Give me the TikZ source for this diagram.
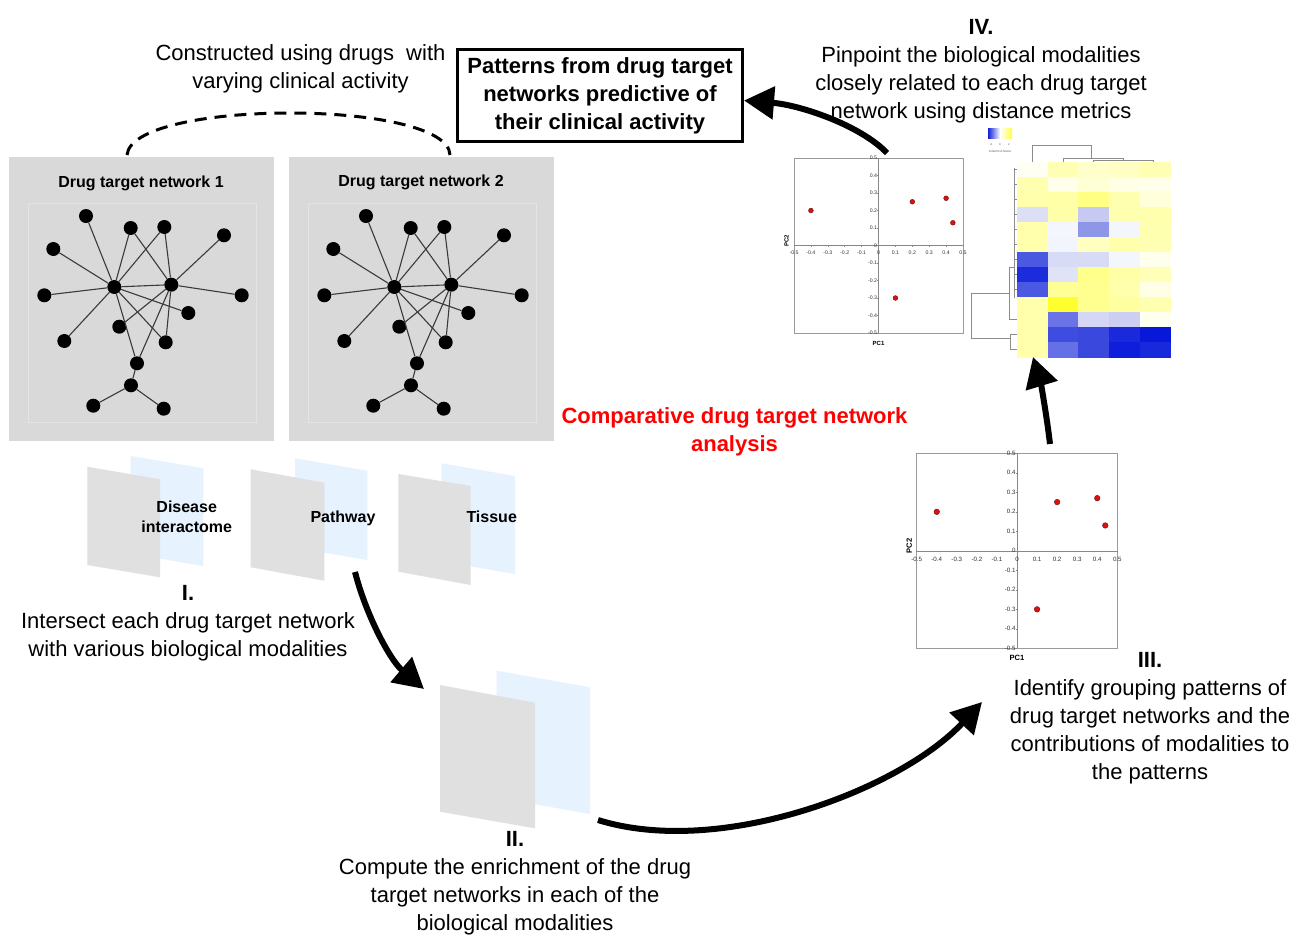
\documentclass[tikz,border=0pt]{standalone}
\usepackage{fontspec}
\setmainfont{Liberation Sans}
\usetikzlibrary{arrows.meta}

\definecolor{panelgray}{HTML}{D9D9D9}
\definecolor{panelline}{HTML}{E4E4E4}
\definecolor{sheetgray}{HTML}{E0E0E0}
\definecolor{sheetblue}{HTML}{E6F2FE}
\definecolor{edgegray}{HTML}{3A3A3A}
\definecolor{plotgray}{HTML}{9A9A9A}
\definecolor{axisgray}{HTML}{888888}
\definecolor{dotred}{HTML}{E01010}
\definecolor{dotrim}{HTML}{601010}
\definecolor{dendro}{HTML}{8C8C8C}
\definecolor{hotred}{HTML}{FF0000}
\definecolor{zblue}{HTML}{1020D8}
\definecolor{zyellow}{HTML}{FFFF40}

\tikzset{
  body/.style={font=\fontsize{22}{28}\selectfont, align=center, inner sep=0pt, anchor=north},
  nettitle/.style={font=\fontsize{16}{20}\selectfont\bfseries, inner sep=0pt},
  modlabel/.style={font=\fontsize{16}{20}\selectfont\bfseries, align=center, inner sep=0pt},
  netdot/.style={circle, fill=black, minimum size=14pt, inner sep=0pt},
  netedge/.style={draw=edgegray, line width=1.1pt},
  flow/.style={line width=6pt, -{Triangle[length=30pt,width=32pt]}},
  plotframe/.style={draw=plotgray, line width=0.7pt},
  plotaxis/.style={draw=axisgray, line width=0.6pt},
  ticklab/.style={inner sep=0pt, text=black!80},
  dendroline/.style={draw=dendro, line width=0.6pt},
}

% network with two hubs, drawn inside a grey panel
\newcommand\drawnet[2]{%
  \begin{scope}[shift={(#2,0)}]
    \foreach \n/\x/\y in {n1/86/216, n2/130.7/228, n3/164.3/227, n4/224/235.3,
        n5/53.3/249, A/114.3/287, B/171.3/284.7, n6/44.3/295.3, n7/241.7/295.3,
        n8/188.3/313, n9/119.3/326.7, n10/64.3/341, n11/165.7/342.3,
        n12/137/363.3, n13/131/385.3, n14/93.3/405.7, n15/163.7/408.7}
      \node[netdot] (#1\n) at (\x,\y) {};
    \foreach \a/\b in {A/n1, A/n2, A/n3, A/n5, A/n6, A/n10, A/B, A/n8, A/n11,
        A/n12, B/n2, B/n3, B/n4, B/n7, B/n9, B/n11, B/n12, n12/n13, n13/n14, n13/n15}
      \draw[netedge] (#1\a) -- (#1\b);
  \end{scope}}

% PCA scatter plot: centre x, centre y, half width, half height,
% tick font size, title font size, dot radius, name prefix
\newcommand\pcaplot[8]{%
  \begin{scope}[shift={(#1,#2)}]
    \draw[plotframe] (-#3,-#4) rectangle (#3,#4);
    \draw[plotaxis] (-#3,0) -- (#3,0);
    \draw[plotaxis] (0,-#4) -- (0,#4);
    \foreach \k/\lab [count=\i] in {-5/-0.5,-4/-0.4,-3/-0.3,-2/-0.2,-1/-0.1,0/0,
        1/0.1,2/0.2,3/0.3,4/0.4,5/0.5}{
      \draw[plotaxis] ({\k*#3/5},0) -- ({\k*#3/5},1.5);
      \draw[plotaxis] (-1.5,{-\k*#4/5}) -- (0,{-\k*#4/5});
      \node[ticklab, font=\fontsize{#5}{#5}\selectfont] (#8x\i) at ({\k*#3/5},{1.3*#5}) {\lab};
      \node[ticklab, font=\fontsize{#5}{#5}\selectfont, anchor=east] (#8y\i) at (-1.2,{-\k*#4/5}) {\lab};
    }
    \foreach \px/\py in {-0.4/0.2, 0.2/0.25, 0.4/0.27, 0.44/0.13, 0.1/-0.3}
      \filldraw[fill=dotred, draw=dotrim, line width=0.4pt] ({\px*2*#3},{-\py*2*#4}) circle[radius=#7pt];
    \node[inner sep=0pt, font=\fontsize{#6}{#6}\selectfont\bfseries] (#8pcone) at (0,{#4+10}) {PC1};
    \node[inner sep=0pt, font=\fontsize{#6}{#6}\selectfont\bfseries, rotate=90] (#8pctwo) at ({-#3-7.5},{-0.05*#4}) {PC2};
  \end{scope}}

\begin{document}
\begin{tikzpicture}[x=1pt, y=-1pt]
\useasboundingbox[fill=white] (0,0) rectangle (1296,935);

% ---------- drug target network panels ----------
\node[fill=panelgray, minimum width=265pt, minimum height=284pt, inner sep=0pt, anchor=north west] (panelA) at (9,157) {};
\node[fill=panelgray, minimum width=265pt, minimum height=284pt, inner sep=0pt, anchor=north west] (panelB) at (289,157) {};
\draw[panelline, line width=0.8pt] (28,203) rectangle (256,422);
\draw[panelline, line width=0.8pt] (308,203) rectangle (536,422);
\node[nettitle] (titleA) at (141,183.5) {Drug target network 1};
\node[nettitle] (titleB) at (421,182.5) {Drug target network 2};
\drawnet{a}{0}
\drawnet{b}{280}

% dashed link between the two networks
\coordinate (arcL) at (127,155);
\coordinate (arcR) at (450,155);
\draw[line width=3pt, dash pattern=on 12pt off 8pt] (arcL) .. controls (132,99) and (448,99) .. (arcR);
\node[body] (constructed) at (300.5,44) {Constructed using drugs\ \ with\\varying clinical activity};

% ---------- outcome box ----------
\node[draw, line width=3pt, minimum width=285pt, minimum height=92pt, inner sep=0pt,
      font=\fontsize{22}{28}\selectfont\bfseries, align=center] (patterns) at (600,95.5)
  {Patterns from drug target\\networks predictive of\\their clinical activity};

% ---------- biological modality sheets ----------
\fill[sheetblue] (130.7,456) -- (203.3,468.3) -- (203.3,566) -- (130.7,553.7) -- cycle;
\fill[sheetgray] (87.3,466.7) -- (160,479.3) -- (160,577.3) -- (87.3,565) -- cycle;
\fill[sheetblue] (295,458.3) -- (367.3,470.7) -- (367.3,560) -- (295,547.6) -- cycle;
\fill[sheetgray] (250.7,469.3) -- (324.3,482.7) -- (324.3,580.7) -- (250.7,567.3) -- cycle;
\fill[sheetblue] (441.7,463.3) -- (515,476) -- (515,574) -- (441.7,561.3) -- cycle;
\fill[sheetgray] (398.3,474) -- (470.7,486) -- (470.7,585) -- (398.3,571.7) -- cycle;
\node[modlabel, anchor=north] (disease) at (186.7,501) {Disease\\interactome};
\node[modlabel] (pathway) at (343,518) {Pathway};
\node[modlabel] (tissue) at (491.7,516.7) {Tissue};

\fill[sheetblue] (496.7,670.7) -- (590,687.3) -- (590,814) -- (496.7,797.4) -- cycle;
\fill[sheetgray] (440,685) -- (535,702.7) -- (535,828.3) -- (440,811.7) -- cycle;

% ---------- step captions ----------
\node[body] (stepI) at (188,585) {\textbf{I.}\\Intersect each drug target network\\with various biological modalities};
\node[body] (stepII) at (515,831) {\textbf{II.}\\Compute the enrichment of the drug\\target networks in each of the\\biological modalities};
\node[body] (stepIII) at (1150,652) {\textbf{III.}\\Identify grouping patterns of\\drug target networks and the\\contributions of modalities to\\the patterns};
\node[body] (stepIV) at (981,19) {\textbf{IV.}\\Pinpoint the biological modalities\\closely related to each drug target\\network using distance metrics};
\node[body, text=hotred, font=\fontsize{22}{28}\selectfont\bfseries] (centre) at (734.5,407)
  {Comparative drug target network\\analysis};

% ---------- PCA plots ----------
\pcaplot{878.5}{245.5}{84.5}{87.5}{5.2}{6}{2.4}{pa}
\pcaplot{1017}{550.8}{100.3}{97.5}{6.2}{7.6}{2.8}{pb}

% ---------- heatmap ----------
\foreach \cl [count=\r] in {
  {FEFEF2,FFFFB4,FFFFCC,FFFFC4,FFFFB4},
  {FFFFB0,FFFFEA,FFFFD6,FFFFE6,FFFFEA},
  {FFFFAC,FFFFA8,FFFF84,FFFFB0,FFFFDC},
  {DCDFF5,FFFFA8,C6CAF0,FFFFB0,FFFFAE},
  {FFFFAC,F4F6FE,8E96E8,F4F6FE,FFFFB0},
  {FFFFAC,F2F4FE,FFFFC0,FFFFAC,FFFFB4},
  {4A58E2,D8DBF6,D8DBF6,F4F6FE,FFFFEE},
  {1C2CDC,E0E2F8,FFFF8C,FFFFA8,FFFFB8},
  {4A58E2,FFFF98,FFFF90,FFFFAC,FFFFE6},
  {FFFFAC,FFFF30,FFFF90,FFFFA0,FFFFB0},
  {FFFFAC,6A74E6,D4D7F5,CCCFF2,FFFFF0},
  {FFFFAC,3E4CE0,3A48DE,1A2ADA,0818D8},
  {FFFFAC,6670E6,3A48DE,0E1EDA,1828DB}}{
  \foreach \hx [count=\c] in \cl {
    \edef\setcell{\noexpand\definecolor{cellfill}{HTML}{\hx}}\setcell
    \fill[cellfill] ({1016.7+(\c-1)*30.8},{161.7+(\r-1)*15.05}) rectangle ++(31.2,15.45);
  }
}
% column dendrogram
\draw[dendroline] (1032,161.7) -- (1032,145) -- (1091,145) -- (1091,158);
\draw[dendroline] (1063,161.7) -- (1063,158) -- (1123,158) -- (1123,160);
\draw[dendroline] (1093,161.7) -- (1093,160) -- (1153,160) -- (1153,161.7);
% row dendrogram
\draw[dendroline] (1014.3,168) -- (1014.3,298);
\foreach \yy in {169,184,199,214,229,244,259,274,289}
  \draw[dendroline] (1014.3,\yy) -- (1016.7,\yy);
\draw[dendroline] (1014.3,267.3) -- (1009.3,267.3) -- (1009.3,319) -- (1016.7,319);
\draw[dendroline] (1009.3,293.3) -- (971.7,293.3) -- (971.7,338.3) -- (1010,338.3);
\draw[dendroline] (1016.7,334.3) -- (1010,334.3) -- (1010,349) -- (1016.7,349);
% colour key
\shade[left color=zblue, right color=white] (988,128) rectangle (1000,138);
\shade[left color=white, right color=zyellow] (1000,128) rectangle (1012,138);
\node[inner sep=0pt, font=\fontsize{2.8}{3}\selectfont, text=black!70] (keyA) at (991,145) {-2};
\node[inner sep=0pt, font=\fontsize{2.8}{3}\selectfont, text=black!70] (keyB) at (1000,145) {0};
\node[inner sep=0pt, font=\fontsize{2.8}{3}\selectfont, text=black!70] (keyC) at (1009,145) {2};
\node[inner sep=0pt, font=\fontsize{3}{3}\selectfont, text=black!70] (keyT) at (1000,151.5) {Column Z-Score};

% ---------- workflow arrows ----------
\coordinate (fromPathway) at (355,572);
\coordinate (toSheets) at (424,689);
\coordinate (fromSheets) at (598,820);
\coordinate (toPcaB) at (982,702);
\coordinate (fromPcaB) at (1050,444);
\coordinate (toHeat) at (1033,357);
\coordinate (fromPcaA) at (887,153);
\draw[flow] (fromPathway) .. controls (366,615) and (390,660) .. (toSheets);
\draw[flow] (fromSheets) .. controls (720,858) and (900,790) .. (toPcaB);
\draw[flow] (fromPcaB) .. controls (1046,410) and (1040,380) .. (toHeat);
\draw[flow] (fromPcaA) .. controls (860,125) and (800,105) .. ([yshift=-5pt]patterns.east);
\end{tikzpicture}
\end{document}
